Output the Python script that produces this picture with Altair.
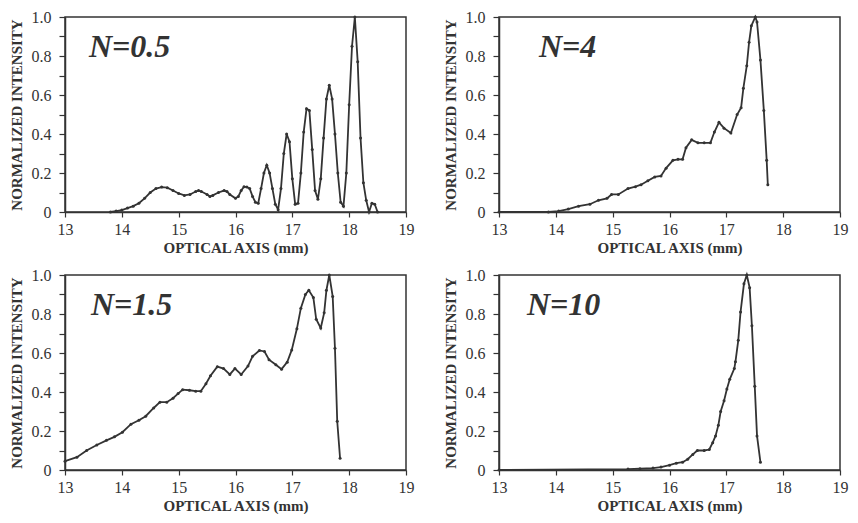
import altair as alt
import pandas as pd

# ---------------- data ----------------
labels = ["N=0.5", "N=4", "N=1.5", "N=10"]

x_n05 = [13.8, 13.9, 14.0, 14.1, 14.2, 14.3, 14.4, 14.5, 14.6, 14.7, 14.8, 14.9,
         15.0, 15.1, 15.2, 15.3, 15.35, 15.4, 15.5, 15.55, 15.6, 15.7, 15.8, 15.85,
         15.9, 16.0, 16.05, 16.1, 16.15, 16.2, 16.25, 16.3, 16.35, 16.4, 16.45, 16.5,
         16.55, 16.6, 16.65, 16.7, 16.75, 16.8, 16.85, 16.9, 16.95, 17.0, 17.05, 17.1,
         17.15, 17.2, 17.25, 17.3, 17.35, 17.4, 17.45, 17.5, 17.55, 17.6, 17.65, 17.7,
         17.75, 17.8, 17.85, 17.9, 17.95, 18.0, 18.05, 18.1, 18.15, 18.2, 18.25, 18.3,
         18.35, 18.4, 18.45, 18.5]
y_n05 = [0.0, 0.005, 0.01, 0.02, 0.03, 0.045, 0.07, 0.10, 0.12, 0.128, 0.125, 0.11,
         0.095, 0.085, 0.09, 0.105, 0.11, 0.105, 0.09, 0.08, 0.085, 0.10, 0.11, 0.105,
         0.09, 0.07, 0.08, 0.11, 0.13, 0.128, 0.12, 0.08, 0.05, 0.045, 0.12, 0.20,
         0.24, 0.20, 0.12, 0.04, 0.012, 0.12, 0.30, 0.40, 0.36, 0.17, 0.04, 0.045,
         0.20, 0.41, 0.53, 0.52, 0.32, 0.11, 0.065, 0.17, 0.38, 0.58, 0.65, 0.58,
         0.40, 0.20, 0.05, 0.03, 0.20, 0.55, 0.85, 1.0, 0.77, 0.38, 0.15, 0.06,
         0.0, 0.045, 0.04, 0.0]

x_n4 = [13.0, 13.87, 14.05, 14.22, 14.4, 14.6, 14.75, 14.9, 14.98, 15.1, 15.27, 15.4,
        15.5, 15.62, 15.74, 15.85, 15.94, 16.06, 16.15, 16.23, 16.29, 16.39, 16.5,
        16.61, 16.72, 16.79, 16.87, 16.96, 17.08, 17.19, 17.26, 17.3, 17.36, 17.4,
        17.44, 17.51, 17.54, 17.6, 17.66, 17.71, 17.73]
y_n4 = [0.0, 0.0, 0.005, 0.015, 0.03, 0.04, 0.06, 0.07, 0.09, 0.09, 0.12, 0.13,
        0.14, 0.16, 0.18, 0.185, 0.225, 0.265, 0.27, 0.27, 0.33, 0.37, 0.355,
        0.355, 0.355, 0.41, 0.46, 0.43, 0.405, 0.50, 0.535, 0.635, 0.75, 0.87,
        0.955, 1.0, 0.975, 0.78, 0.52, 0.265, 0.14]

x_n15 = [13.0, 13.21, 13.38, 13.56, 13.73, 13.87, 14.01, 14.16, 14.3, 14.42, 14.56,
         14.67, 14.79, 14.9, 14.99, 15.07, 15.19, 15.3, 15.39, 15.48, 15.56, 15.68,
         15.79, 15.9, 15.99, 16.1, 16.22, 16.3, 16.42, 16.51, 16.59, 16.71, 16.81,
         16.91, 16.99, 17.08, 17.15, 17.23, 17.29, 17.37, 17.42, 17.5, 17.56, 17.6,
         17.65, 17.71, 17.75, 17.79, 17.84]
y_n15 = [0.045, 0.066, 0.10, 0.128, 0.152, 0.17, 0.194, 0.235, 0.255, 0.276, 0.318,
         0.348, 0.348, 0.368, 0.392, 0.412, 0.409, 0.404, 0.404, 0.442, 0.483, 0.53,
         0.52, 0.49, 0.52, 0.49, 0.533, 0.583, 0.613, 0.608, 0.566, 0.54, 0.517,
         0.553, 0.616, 0.724, 0.83, 0.90, 0.922, 0.884, 0.773, 0.728, 0.806, 0.922,
         1.0, 0.89, 0.624, 0.25, 0.06]

x_n10 = [13.0, 15.27, 15.48, 15.71, 15.85, 16.0, 16.12, 16.23, 16.32, 16.41, 16.49,
         16.61, 16.7, 16.76, 16.81, 16.86, 16.9, 16.96, 17.01, 17.06, 17.14, 17.16,
         17.21, 17.25, 17.31, 17.36, 17.41, 17.45, 17.5, 17.54, 17.6]
y_n10 = [0.0, 0.005, 0.007, 0.01, 0.015, 0.025, 0.035, 0.04, 0.055, 0.08, 0.10,
         0.10, 0.105, 0.14, 0.175, 0.23, 0.30, 0.355, 0.415, 0.465, 0.52, 0.555,
         0.665, 0.81, 0.955, 1.0, 0.935, 0.74, 0.43, 0.175, 0.04]

x_ticks = [13, 14, 15, 16, 17, 18, 19]
y_ticks = [0, 0.1, 0.2, 0.3, 0.4, 0.5, 0.6, 0.7, 0.8, 0.9, 1.0]

# ---------------- styling ----------------
INK = "#333333"
FONT = "Liberation Serif"


def panel(xs, ys, label, lx):
    df = pd.DataFrame({"x": xs, "y": ys})
    xaxis = alt.Axis(values=x_ticks, format="d", title="OPTICAL AXIS (mm)", grid=False,
                     tickSize=5, tickColor=INK, domainColor=INK, domainWidth=1.5,
                     tickWidth=1.2, labelPadding=4, labelFont=FONT, labelFontSize=16,
                     labelColor=INK, labelFlush=False, titleFont=FONT, titleFontSize=15,
                     titleFontWeight="bold", titleColor=INK, titlePadding=3)
    yaxis = alt.Axis(values=y_ticks,
                     labelExpr="datum.value == 0 ? '0' : (round(datum.value*10) % 2 == 0 ? format(datum.value, '.1f') : '')",
                     title="NORMALIZED INTENSITY", grid=False, tickSize=6, tickColor=INK,
                     domainColor=INK, domainWidth=1.5, tickWidth=1.2, labelPadding=8,
                     labelFont=FONT, labelFontSize=16, labelColor=INK, labelFlush=False,
                     titleFont=FONT, titleFontSize=15, titleFontWeight="bold",
                     titleColor=INK, titlePadding=7)
    line = alt.Chart(df).mark_line(
        color=INK, strokeWidth=1.8,
        point=alt.OverlayMarkDef(size=9, color=INK, filled=True),
    ).encode(
        x=alt.X("x:Q", scale=alt.Scale(domain=[13, 19], nice=False), axis=xaxis),
        y=alt.Y("y:Q", scale=alt.Scale(domain=[0, 1], nice=False), axis=yaxis),
    )
    text = alt.Chart(pd.DataFrame({"t": [label]})).mark_text(
        font=FONT, fontSize=32, fontStyle="italic", fontWeight="bold",
        color=INK, align="left", baseline="alphabetic",
    ).encode(x=alt.value(lx), y=alt.value(40), text="t:N")
    return alt.layer(line, text).properties(width=341, height=195)


p1 = panel(x_n05, y_n05, labels[0], 24)
p2 = panel(x_n4, y_n4, labels[1], 40)
p3 = panel(x_n15, y_n15, labels[2], 26)
p4 = panel(x_n10, y_n10, labels[3], 28)

chart = alt.vconcat(
    alt.hconcat(p1, p2, spacing=27),
    alt.hconcat(p3, p4, spacing=27),
    spacing=10,
).properties(
    padding={"left": 0, "top": 0, "right": 0, "bottom": 0},
    background="white",
).configure_view(stroke=INK, strokeWidth=1.5)

chart.save("out.html", embed_options={"renderer": "svg", "actions": False})
